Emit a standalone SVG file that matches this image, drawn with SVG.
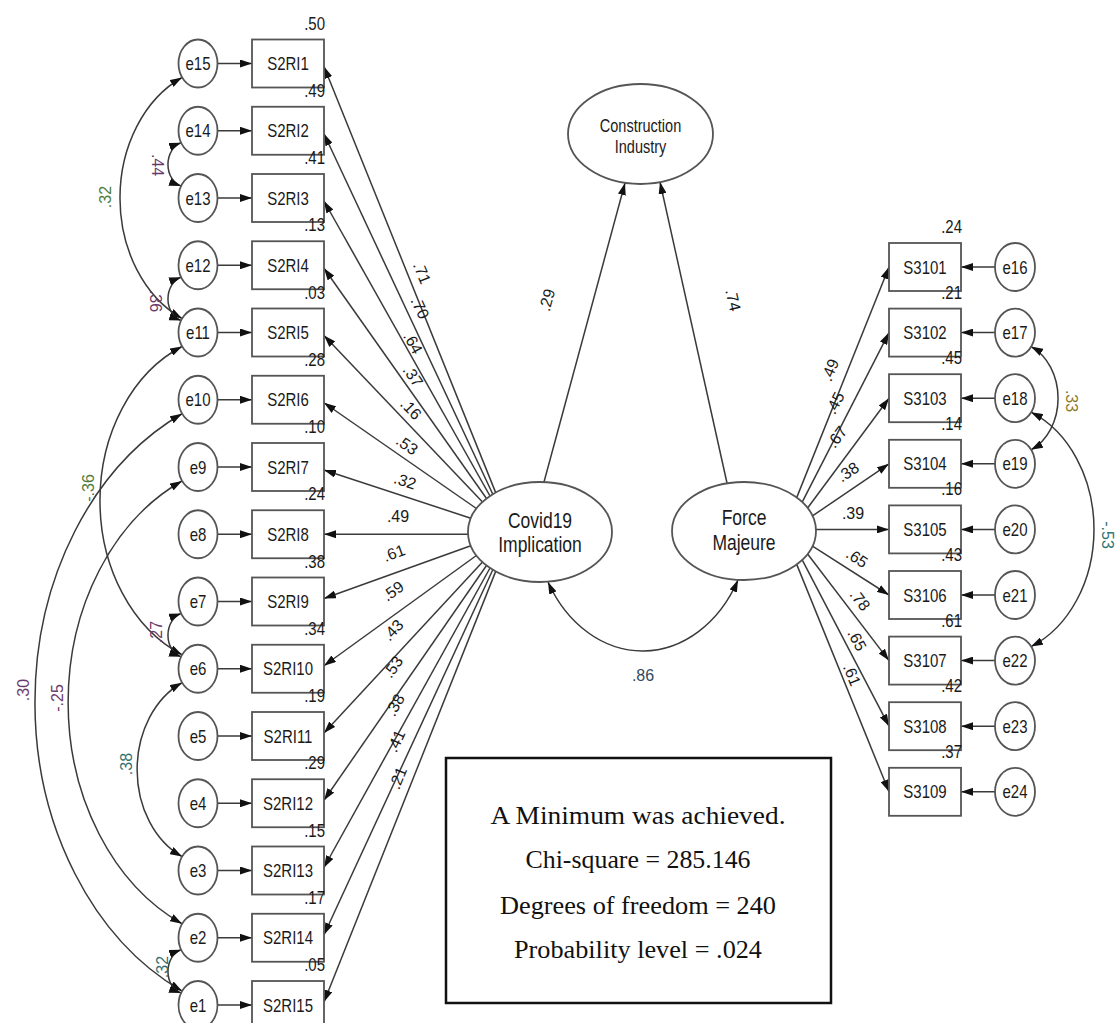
<svg xmlns="http://www.w3.org/2000/svg" width="1118" height="1023" viewBox="0 0 1118 1023">
<style>
.bx{fill:#fff;stroke:#555;stroke-width:1.8}
.cr{fill:#fff;stroke:#555;stroke-width:1.8}
.n{font-family:"Liberation Sans",Arial,sans-serif;font-size:15px;fill:#1a1a1a;text-anchor:middle}
.lt{font-family:"Liberation Sans",Arial,sans-serif;font-size:17.5px;fill:#1a1a1a;text-anchor:middle}
.ci{font-family:"Liberation Sans",Arial,sans-serif;font-size:14.5px;fill:#1a1a1a;text-anchor:middle}
.r{font-family:"Liberation Sans",Arial,sans-serif;font-size:15px;fill:#1a1a1a;text-anchor:end}
.c{font-family:"Liberation Sans",Arial,sans-serif;font-size:16px;fill:#1a1a1a;text-anchor:middle;dominant-baseline:central}
.ln{fill:none;stroke:#3a3a3a;stroke-width:1.5;marker-end:url(#ah)}
.cv{fill:none;stroke:#3a3a3a;stroke-width:1.5;marker-start:url(#ah);marker-end:url(#ah)}
.pu{fill:#6b3a6b}.tl{fill:#2f7272}.gr{fill:#4f7a3a}.ol{fill:#8a7a2a}.sl{fill:#34485e}
.bt{font-family:"Liberation Serif","Times New Roman",serif;font-size:26px;fill:#111;text-anchor:middle}
</style>
<defs>
<marker id="ah" viewBox="0 0 12 8" refX="12" refY="4" markerWidth="12" markerHeight="8" markerUnits="userSpaceOnUse" orient="auto-start-reverse"><path d="M0,0 L12,4 L0,8 z" fill="#111"/></marker>
</defs>
<rect width="1118" height="1023" fill="#fff"/>

<g id="connectors">
<line class="ln" x1="217.5" y1="63.5" x2="252" y2="63.5"/>
<line class="ln" x1="217.5" y1="130.75" x2="252" y2="130.75"/>
<line class="ln" x1="217.5" y1="198" x2="252" y2="198"/>
<line class="ln" x1="217.5" y1="265.25" x2="252" y2="265.25"/>
<line class="ln" x1="217.5" y1="332.5" x2="252" y2="332.5"/>
<line class="ln" x1="217.5" y1="399.75" x2="252" y2="399.75"/>
<line class="ln" x1="217.5" y1="467" x2="252" y2="467"/>
<line class="ln" x1="217.5" y1="534.25" x2="252" y2="534.25"/>
<line class="ln" x1="217.5" y1="601.5" x2="252" y2="601.5"/>
<line class="ln" x1="217.5" y1="668.75" x2="252" y2="668.75"/>
<line class="ln" x1="217.5" y1="736" x2="252" y2="736"/>
<line class="ln" x1="217.5" y1="803.25" x2="252" y2="803.25"/>
<line class="ln" x1="217.5" y1="870.5" x2="252" y2="870.5"/>
<line class="ln" x1="217.5" y1="937.75" x2="252" y2="937.75"/>
<line class="ln" x1="217.5" y1="1005" x2="252" y2="1005"/>
<line class="ln" x1="995" y1="267" x2="961" y2="267"/>
<line class="ln" x1="995" y1="332.6" x2="961" y2="332.6"/>
<line class="ln" x1="995" y1="398.2" x2="961" y2="398.2"/>
<line class="ln" x1="995" y1="463.8" x2="961" y2="463.8"/>
<line class="ln" x1="995" y1="529.4" x2="961" y2="529.4"/>
<line class="ln" x1="995" y1="595" x2="961" y2="595"/>
<line class="ln" x1="995" y1="660.6" x2="961" y2="660.6"/>
<line class="ln" x1="995" y1="726.2" x2="961" y2="726.2"/>
<line class="ln" x1="995" y1="791.8" x2="961" y2="791.8"/>
<line class="ln" x1="495.7" y1="492.6" x2="324" y2="66.5"/>
<line class="ln" x1="492.8" y1="494.3" x2="324" y2="133.75"/>
<line class="ln" x1="490" y1="496" x2="324" y2="201"/>
<line class="ln" x1="486.5" y1="498.5" x2="324" y2="268.25"/>
<line class="ln" x1="482.5" y1="501.9" x2="324" y2="335.5"/>
<line class="ln" x1="476.4" y1="508.5" x2="324" y2="402.75"/>
<line class="ln" x1="470.8" y1="518.2" x2="324" y2="470"/>
<line class="ln" x1="468" y1="534.25" x2="324" y2="534.25"/>
<line class="ln" x1="470.8" y1="545.8" x2="324" y2="598.5"/>
<line class="ln" x1="476.4" y1="555.5" x2="324" y2="665.75"/>
<line class="ln" x1="482.5" y1="562.1" x2="324" y2="733"/>
<line class="ln" x1="486.5" y1="565.5" x2="324" y2="800.25"/>
<line class="ln" x1="490" y1="568" x2="324" y2="867.5"/>
<line class="ln" x1="492.8" y1="569.7" x2="324" y2="934.75"/>
<line class="ln" x1="495.7" y1="571.4" x2="324" y2="1002"/>
<line class="ln" x1="796.7" y1="497.6" x2="889" y2="267"/>
<line class="ln" x1="802.2" y1="502.2" x2="889" y2="332.6"/>
<line class="ln" x1="807.6" y1="508" x2="889" y2="398.2"/>
<line class="ln" x1="812.5" y1="515.9" x2="889" y2="463.8"/>
<line class="ln" x1="816" y1="529.4" x2="889" y2="529.4"/>
<line class="ln" x1="812.5" y1="546.1" x2="889" y2="595"/>
<line class="ln" x1="807.6" y1="554" x2="889" y2="660.6"/>
<line class="ln" x1="802.2" y1="559.8" x2="889" y2="726.2"/>
<line class="ln" x1="796.7" y1="564.4" x2="889" y2="791.8"/>
<line class="ln" x1="544" y1="482" x2="625" y2="183"/>
<line class="ln" x1="727" y1="483" x2="660" y2="182"/>
<path class="cv" d="M182,77.5 A105.9,132.4 0 0 0 182,318.5"/>
<path class="cv" d="M181,142.75 A18,22.5 0 0 0 181,186"/>
<path class="cv" d="M181,277.25 A18,22.5 0 0 0 181,320.5"/>
<path class="cv" d="M182,346.5 A133.7,167.1 0 0 0 182,654.75"/>
<path class="cv" d="M182,413.75 A254.8,318.5 0 0 0 182,991"/>
<path class="cv" d="M182,481 A194.6,243.3 0 0 0 182,923.75"/>
<path class="cv" d="M181,613.5 A18,22.5 0 0 0 181,656.75"/>
<path class="cv" d="M182,682.75 A76.2,95.3 0 0 0 182,856.5"/>
<path class="cv" d="M181,949.75 A18,22.5 0 0 0 181,993"/>
<path class="cv" d="M1031,346.6 A45.1,56.3 0 0 1 1031,449.8"/>
<path class="cv" d="M1031,412.2 A101.3,126.6 0 0 1 1031,646.6"/>
<path class="cv" d="M548,582 A108.6,135.7 0 0 0 738,580"/>
<text class="c" transform="translate(422,273) rotate(68)">.71</text>
<text class="c" transform="translate(420,308) rotate(65)">.70</text>
<text class="c" transform="translate(413,343) rotate(61)">.64</text>
<text class="c" transform="translate(413,376) rotate(55)">.37</text>
<text class="c" transform="translate(411,409) rotate(46)">.16</text>
<text class="c" transform="translate(407,445) rotate(35)">.53</text>
<text class="c" transform="translate(405,481) rotate(18)">.32</text>
<text class="c" transform="translate(398,516)">.49</text>
<text class="c" transform="translate(394,553) rotate(-20)">.61</text>
<text class="c" transform="translate(393,591) rotate(-36)">.59</text>
<text class="c" transform="translate(393,630) rotate(-47)">.43</text>
<text class="c" transform="translate(393,667) rotate(-55)">.53</text>
<text class="c" transform="translate(395,705) rotate(-61)">.38</text>
<text class="c" transform="translate(396,741) rotate(-65)">.41</text>
<text class="c" transform="translate(398,778) rotate(-68)">.21</text>
<text class="c" transform="translate(830,370) rotate(-68)">.49</text>
<text class="c" transform="translate(835,403) rotate(-63)">.45</text>
<text class="c" transform="translate(837,437) rotate(-53)">.67</text>
<text class="c" transform="translate(848,472) rotate(-34)">.38</text>
<text class="c" transform="translate(853,513)">.39</text>
<text class="c" transform="translate(857,558) rotate(33)">.65</text>
<text class="c" transform="translate(860,600) rotate(53)">.78</text>
<text class="c" transform="translate(857,640) rotate(62)">.65</text>
<text class="c" transform="translate(852,675) rotate(68)">.61</text>
<text class="c" transform="translate(547,300) rotate(-75)">.29</text>
<text class="c" transform="translate(733,300) rotate(77)">.74</text>
<text class="c pu" transform="translate(157,165) rotate(90)">.44</text>
<text class="c gr" transform="translate(105,197) rotate(-90)">.32</text>
<text class="c pu" transform="translate(155,301) rotate(90)">.36</text>
<text class="c gr" transform="translate(88,488) rotate(-90)">-.36</text>
<text class="c pu" transform="translate(23,690) rotate(-90)">.30</text>
<text class="c pu" transform="translate(57,698) rotate(-90)">-.25</text>
<text class="c pu" transform="translate(156,632) rotate(-90)">.27</text>
<text class="c tl" transform="translate(126,764) rotate(-90)">.38</text>
<text class="c tl" transform="translate(162,967) rotate(-90)">.32</text>
<text class="c ol" transform="translate(1071,401) rotate(90)">.33</text>
<text class="c tl" transform="translate(1107,535) rotate(90)">-.53</text>
<text class="c sl" transform="translate(643,675)">.86</text>
</g>

<g id="Construction_Industry">
<ellipse class="cr" cx="640.5" cy="134" rx="72.5" ry="50"/>
<text class="ci" transform="translate(640.5,132) scale(1,1.25)">Construction</text>
<text class="ci" transform="translate(640.5,152.5) scale(1,1.25)">Industry</text>
</g>
<g id="Covid19_Implication">
<ellipse class="cr" cx="540" cy="532" rx="72" ry="50"/>
<text class="lt" transform="translate(540,528) scale(1,1.25)">Covid19</text>
<text class="lt" transform="translate(540,551.5) scale(1,1.25)">Implication</text>
</g>
<g id="Force_Majeure">
<ellipse class="cr" cx="744" cy="531" rx="72" ry="49"/>
<text class="lt" transform="translate(744,524.5) scale(1,1.25)">Force</text>
<text class="lt" transform="translate(744,550) scale(1,1.25)">Majeure</text>
</g>

<g id="S2RI1"><rect class="bx" x="252" y="39.5" width="72" height="48"/><text class="n" transform="translate(288,70) scale(1,1.25)">S2RI1</text><text class="r" transform="translate(325,29.5) scale(1,1.25)">.50</text></g>
<g id="S2RI2"><rect class="bx" x="252" y="106.75" width="72" height="48"/><text class="n" transform="translate(288,137.25) scale(1,1.25)">S2RI2</text><text class="r" transform="translate(325,96.75) scale(1,1.25)">.49</text></g>
<g id="S2RI3"><rect class="bx" x="252" y="174" width="72" height="48"/><text class="n" transform="translate(288,204.5) scale(1,1.25)">S2RI3</text><text class="r" transform="translate(325,164) scale(1,1.25)">.41</text></g>
<g id="S2RI4"><rect class="bx" x="252" y="241.25" width="72" height="48"/><text class="n" transform="translate(288,271.75) scale(1,1.25)">S2RI4</text><text class="r" transform="translate(325,231.25) scale(1,1.25)">.13</text></g>
<g id="S2RI5"><rect class="bx" x="252" y="308.5" width="72" height="48"/><text class="n" transform="translate(288,339) scale(1,1.25)">S2RI5</text><text class="r" transform="translate(325,298.5) scale(1,1.25)">.03</text></g>
<g id="S2RI6"><rect class="bx" x="252" y="375.75" width="72" height="48"/><text class="n" transform="translate(288,406.25) scale(1,1.25)">S2RI6</text><text class="r" transform="translate(325,365.75) scale(1,1.25)">.28</text></g>
<g id="S2RI7"><rect class="bx" x="252" y="443" width="72" height="48"/><text class="n" transform="translate(288,473.5) scale(1,1.25)">S2RI7</text><text class="r" transform="translate(325,433) scale(1,1.25)">.10</text></g>
<g id="S2RI8"><rect class="bx" x="252" y="510.25" width="72" height="48"/><text class="n" transform="translate(288,540.75) scale(1,1.25)">S2RI8</text><text class="r" transform="translate(325,500.25) scale(1,1.25)">.24</text></g>
<g id="S2RI9"><rect class="bx" x="252" y="577.5" width="72" height="48"/><text class="n" transform="translate(288,608) scale(1,1.25)">S2RI9</text><text class="r" transform="translate(325,567.5) scale(1,1.25)">.38</text></g>
<g id="S2RI10"><rect class="bx" x="252" y="644.75" width="72" height="48"/><text class="n" transform="translate(288,675.25) scale(1,1.25)">S2RI10</text><text class="r" transform="translate(325,634.75) scale(1,1.25)">.34</text></g>
<g id="S2RI11"><rect class="bx" x="252" y="712" width="72" height="48"/><text class="n" transform="translate(288,742.5) scale(1,1.25)">S2RI11</text><text class="r" transform="translate(325,702) scale(1,1.25)">.19</text></g>
<g id="S2RI12"><rect class="bx" x="252" y="779.25" width="72" height="48"/><text class="n" transform="translate(288,809.75) scale(1,1.25)">S2RI12</text><text class="r" transform="translate(325,769.25) scale(1,1.25)">.29</text></g>
<g id="S2RI13"><rect class="bx" x="252" y="846.5" width="72" height="48"/><text class="n" transform="translate(288,877) scale(1,1.25)">S2RI13</text><text class="r" transform="translate(325,836.5) scale(1,1.25)">.15</text></g>
<g id="S2RI14"><rect class="bx" x="252" y="913.75" width="72" height="48"/><text class="n" transform="translate(288,944.25) scale(1,1.25)">S2RI14</text><text class="r" transform="translate(325,903.75) scale(1,1.25)">.17</text></g>
<g id="S2RI15"><rect class="bx" x="252" y="981" width="72" height="48"/><text class="n" transform="translate(288,1011.5) scale(1,1.25)">S2RI15</text><text class="r" transform="translate(325,971) scale(1,1.25)">.05</text></g>

<g id="e15"><ellipse class="cr" cx="198" cy="63.5" rx="19.5" ry="24"/><text class="n" transform="translate(198,70) scale(1,1.25)">e15</text></g>
<g id="e14"><ellipse class="cr" cx="198" cy="130.75" rx="19.5" ry="24"/><text class="n" transform="translate(198,137.25) scale(1,1.25)">e14</text></g>
<g id="e13"><ellipse class="cr" cx="198" cy="198" rx="19.5" ry="24"/><text class="n" transform="translate(198,204.5) scale(1,1.25)">e13</text></g>
<g id="e12"><ellipse class="cr" cx="198" cy="265.25" rx="19.5" ry="24"/><text class="n" transform="translate(198,271.75) scale(1,1.25)">e12</text></g>
<g id="e11"><ellipse class="cr" cx="198" cy="332.5" rx="19.5" ry="24"/><text class="n" transform="translate(198,339) scale(1,1.25)">e11</text></g>
<g id="e10"><ellipse class="cr" cx="198" cy="399.75" rx="19.5" ry="24"/><text class="n" transform="translate(198,406.25) scale(1,1.25)">e10</text></g>
<g id="e9"><ellipse class="cr" cx="198" cy="467" rx="19.5" ry="24"/><text class="n" transform="translate(198,473.5) scale(1,1.25)">e9</text></g>
<g id="e8"><ellipse class="cr" cx="198" cy="534.25" rx="19.5" ry="24"/><text class="n" transform="translate(198,540.75) scale(1,1.25)">e8</text></g>
<g id="e7"><ellipse class="cr" cx="198" cy="601.5" rx="19.5" ry="24"/><text class="n" transform="translate(198,608) scale(1,1.25)">e7</text></g>
<g id="e6"><ellipse class="cr" cx="198" cy="668.75" rx="19.5" ry="24"/><text class="n" transform="translate(198,675.25) scale(1,1.25)">e6</text></g>
<g id="e5"><ellipse class="cr" cx="198" cy="736" rx="19.5" ry="24"/><text class="n" transform="translate(198,742.5) scale(1,1.25)">e5</text></g>
<g id="e4"><ellipse class="cr" cx="198" cy="803.25" rx="19.5" ry="24"/><text class="n" transform="translate(198,809.75) scale(1,1.25)">e4</text></g>
<g id="e3"><ellipse class="cr" cx="198" cy="870.5" rx="19.5" ry="24"/><text class="n" transform="translate(198,877) scale(1,1.25)">e3</text></g>
<g id="e2"><ellipse class="cr" cx="198" cy="937.75" rx="19.5" ry="24"/><text class="n" transform="translate(198,944.25) scale(1,1.25)">e2</text></g>
<g id="e1"><ellipse class="cr" cx="198" cy="1005" rx="19.5" ry="24"/><text class="n" transform="translate(198,1011.5) scale(1,1.25)">e1</text></g>

<g id="S3101"><rect class="bx" x="889" y="243" width="72" height="48"/><text class="n" transform="translate(925,273.5) scale(1,1.25)">S3101</text><text class="r" transform="translate(962,233) scale(1,1.25)">.24</text></g>
<g id="S3102"><rect class="bx" x="889" y="308.6" width="72" height="48"/><text class="n" transform="translate(925,339.1) scale(1,1.25)">S3102</text><text class="r" transform="translate(962,298.6) scale(1,1.25)">.21</text></g>
<g id="S3103"><rect class="bx" x="889" y="374.2" width="72" height="48"/><text class="n" transform="translate(925,404.7) scale(1,1.25)">S3103</text><text class="r" transform="translate(962,364.2) scale(1,1.25)">.45</text></g>
<g id="S3104"><rect class="bx" x="889" y="439.8" width="72" height="48"/><text class="n" transform="translate(925,470.3) scale(1,1.25)">S3104</text><text class="r" transform="translate(962,429.8) scale(1,1.25)">.14</text></g>
<g id="S3105"><rect class="bx" x="889" y="505.4" width="72" height="48"/><text class="n" transform="translate(925,535.9) scale(1,1.25)">S3105</text><text class="r" transform="translate(962,495.4) scale(1,1.25)">.16</text></g>
<g id="S3106"><rect class="bx" x="889" y="571" width="72" height="48"/><text class="n" transform="translate(925,601.5) scale(1,1.25)">S3106</text><text class="r" transform="translate(962,561) scale(1,1.25)">.43</text></g>
<g id="S3107"><rect class="bx" x="889" y="636.6" width="72" height="48"/><text class="n" transform="translate(925,667.1) scale(1,1.25)">S3107</text><text class="r" transform="translate(962,626.6) scale(1,1.25)">.61</text></g>
<g id="S3108"><rect class="bx" x="889" y="702.2" width="72" height="48"/><text class="n" transform="translate(925,732.7) scale(1,1.25)">S3108</text><text class="r" transform="translate(962,692.2) scale(1,1.25)">.42</text></g>
<g id="S3109"><rect class="bx" x="889" y="767.8" width="72" height="48"/><text class="n" transform="translate(925,798.3) scale(1,1.25)">S3109</text><text class="r" transform="translate(962,757.8) scale(1,1.25)">.37</text></g>

<g id="e16"><ellipse class="cr" cx="1015" cy="267" rx="20" ry="24"/><text class="n" transform="translate(1015,273.5) scale(1,1.25)">e16</text></g>
<g id="e17"><ellipse class="cr" cx="1015" cy="332.6" rx="20" ry="24"/><text class="n" transform="translate(1015,339.1) scale(1,1.25)">e17</text></g>
<g id="e18"><ellipse class="cr" cx="1015" cy="398.2" rx="20" ry="24"/><text class="n" transform="translate(1015,404.7) scale(1,1.25)">e18</text></g>
<g id="e19"><ellipse class="cr" cx="1015" cy="463.8" rx="20" ry="24"/><text class="n" transform="translate(1015,470.3) scale(1,1.25)">e19</text></g>
<g id="e20"><ellipse class="cr" cx="1015" cy="529.4" rx="20" ry="24"/><text class="n" transform="translate(1015,535.9) scale(1,1.25)">e20</text></g>
<g id="e21"><ellipse class="cr" cx="1015" cy="595" rx="20" ry="24"/><text class="n" transform="translate(1015,601.5) scale(1,1.25)">e21</text></g>
<g id="e22"><ellipse class="cr" cx="1015" cy="660.6" rx="20" ry="24"/><text class="n" transform="translate(1015,667.1) scale(1,1.25)">e22</text></g>
<g id="e23"><ellipse class="cr" cx="1015" cy="726.2" rx="20" ry="24"/><text class="n" transform="translate(1015,732.7) scale(1,1.25)">e23</text></g>
<g id="e24"><ellipse class="cr" cx="1015" cy="791.8" rx="20" ry="24"/><text class="n" transform="translate(1015,798.3) scale(1,1.25)">e24</text></g>

<g id="fit_box">
<rect x="446" y="758" width="385" height="245" fill="#fff" stroke="#111" stroke-width="2.5"/>
<text class="bt" x="638" y="824" textLength="295" lengthAdjust="spacingAndGlyphs">A Minimum was achieved.</text>
<text class="bt" x="638" y="868" textLength="225" lengthAdjust="spacingAndGlyphs">Chi-square = 285.146</text>
<text class="bt" x="638" y="914" textLength="276" lengthAdjust="spacingAndGlyphs">Degrees of freedom = 240</text>
<text class="bt" x="638" y="958" textLength="248" lengthAdjust="spacingAndGlyphs">Probability level = .024</text>
</g>
</svg>
